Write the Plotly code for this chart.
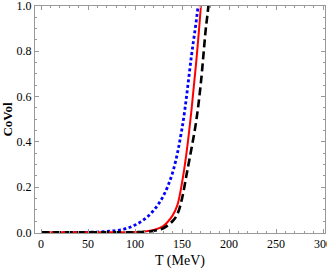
import plotly.graph_objects as go

# temperature (MeV) and CoVol
t_blue = [0, 20, 40, 60, 70, 80, 90, 100, 110, 120, 130, 140, 150, 160, 167, 171]
covol_blue = [0.0, 0.0, 0.0, 0.001, 0.004, 0.008, 0.016, 0.032, 0.058, 0.098, 0.16, 0.265, 0.46, 0.78, 1.0, 1.2]

t_red = [0, 20, 40, 60, 80, 100, 110, 120, 130, 140, 145, 150, 155, 160, 165, 170, 173]
covol_red = [0.0, 0.0, 0.0, 0.0, 0.0002, 0.001, 0.003, 0.010, 0.028, 0.075, 0.12, 0.22, 0.36, 0.54, 0.75, 1.0, 1.2]

t_black = [0, 20, 40, 60, 80, 100, 110, 120, 130, 140, 145, 150, 155, 160, 165, 170, 175, 178, 181]
covol_black = [0.0, 0.0, 0.0, 0.0, 0.0001, 0.0005, 0.002, 0.007, 0.018, 0.05, 0.08, 0.15, 0.26, 0.37, 0.49, 0.66, 0.89, 1.0, 1.15]

fig = go.Figure()
fig.add_trace(go.Scatter(x=t_blue, y=covol_blue, mode='lines', line_shape='spline',
                         line=dict(color='blue', width=2.8, dash='3px,2.5px')))
fig.add_trace(go.Scatter(x=t_red, y=covol_red, mode='lines', line_shape='spline',
                         line=dict(color='red', width=2)))
fig.add_trace(go.Scatter(x=t_black, y=covol_black, mode='lines', line_shape='spline',
                         line=dict(color='black', width=2.6, dash='8px,4px')))

frame = '#999999'
font = dict(family='Liberation Serif', size=12, color='black')
fig.update_layout(
    width=327, height=273,
    margin=dict(l=35, r=2, t=6, b=40),
    plot_bgcolor='white', paper_bgcolor='white',
    showlegend=False,
    font=font,
)
fig.update_xaxes(range=[-6.4, 302], showgrid=False, zeroline=False, automargin=False,
                 showline=True, linecolor=frame, linewidth=1, mirror='allticks',
                 ticks='inside', ticklen=4, tickcolor=frame, tickvals=[0, 50, 100, 150, 200, 250, 300],
                 ticklabeloverflow='allow',
                 minor=dict(ticks='inside', ticklen=2, tickcolor=frame, dtick=10, tick0=0),
                 title=dict(text='T (MeV)', font=dict(family='Liberation Serif', size=14), standoff=4))
fig.update_yaxes(range=[-0.003, 1.0], showgrid=False, zeroline=False, automargin=False,
                 showline=True, linecolor=frame, linewidth=1, mirror='allticks',
                 ticks='inside', ticklen=4, tickcolor=frame, dtick=0.2, tickformat='.1f',
                 ticklabeloverflow='allow',
                 minor=dict(ticks='inside', ticklen=2, tickcolor=frame, dtick=0.05, tick0=0),
                 title=dict(text='<b>CoVol</b>', font=dict(family='Liberation Serif', size=13), standoff=4))

# drop the page's default body margin so the figure sits at the window corner
fig.write_html("out.html", config={'displayModeBar': False},
               post_script="document.body.style.margin='0';")
